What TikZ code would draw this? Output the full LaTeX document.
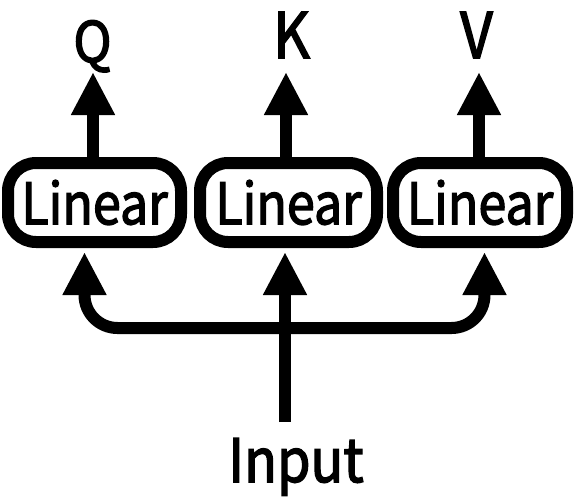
\documentclass[tikz,border=0pt]{standalone}
\usepackage{fontspec}
\usepackage{graphicx}
\setmainfont{Noto Sans CJK SC}
\newfontfamily\medf[FakeBold=2.5]{Noto Sans CJK SC}
\newcommand\narrow[2]{\scalebox{#1}[1]{#2}}
\usetikzlibrary{arrows.meta}
\begin{document}
\begin{tikzpicture}[x=1pt,y=-1pt,
  arr/.style={line width=12pt,-{Triangle[length=43pt,width=41pt]}},
  linbox/.style={draw,line width=12pt,rounded corners=28pt,minimum height=79pt,inner sep=0pt,
    font=\medf\fontsize{57}{60}\selectfont},
  lbl/.style={inner sep=0pt,anchor=base,font=\medf\fontsize{63}{66}\selectfont}]
\useasboundingbox (0,0) rectangle (576,501);
\node[linbox,minimum width=173pt] (l1) at (94.5,202.5) {\narrow{0.88}{Linear}};
\node[linbox,minimum width=177pt] (l2) at (288.5,202.5) {\narrow{0.88}{Linear}};
\node[linbox,minimum width=174pt] (l3) at (480,202.5) {\narrow{0.88}{Linear}};
\node[lbl,font=\medf\fontsize{56}{59}\selectfont] (q) at (92.5,62) {\narrow{0.92}{Q}};
\node[lbl] (k) at (291.5,58) {\narrow{0.9}{K}};
\node[lbl] (v) at (476.5,58) {\narrow{0.9}{V}};
\node[lbl,font=\medf\fontsize{60}{63}\selectfont] (in) at (296,482) {\narrow{0.9}{Input}};
\coordinate (qt) at (93,72);
\coordinate (kt) at (286,72);
\coordinate (vt) at (479,72);
\draw[arr] (l1.north -| qt) -- (qt);
\draw[arr] (l2.north -| kt) -- (kt);
\draw[arr] (l3.north -| vt) -- (vt);
\coordinate (b1) at (84.5,252);
\coordinate (b2) at (285,252);
\coordinate (b3) at (484.5,252);
\coordinate (split) at (285,328);
\coordinate (src) at (285,422);
\draw[arr] (src) -- (b2);
\draw[arr,rounded corners=33pt] (split) -| (b1);
\draw[arr,rounded corners=33pt] (split) -| (b3);
\end{tikzpicture}
\end{document}
